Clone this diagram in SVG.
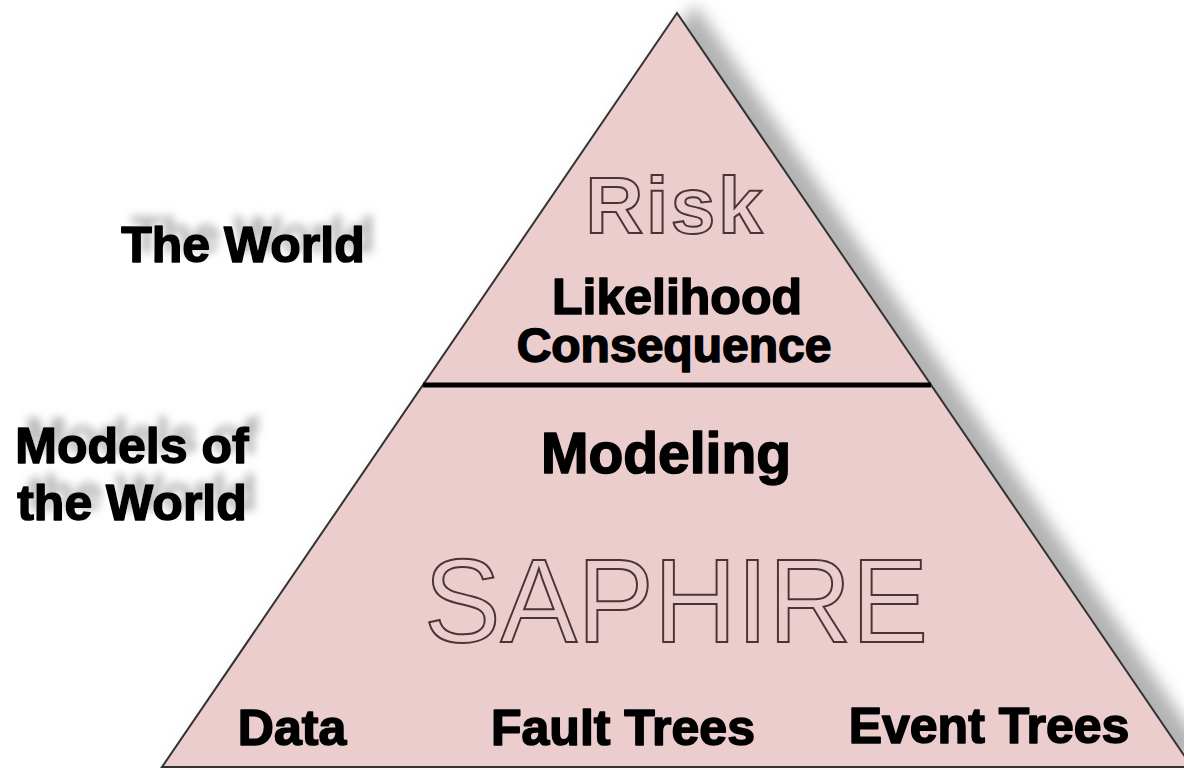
<svg xmlns="http://www.w3.org/2000/svg" width="1184" height="770" viewBox="0 0 1184 770">
  <defs>
    <filter id="triShadow" x="-10%" y="-10%" width="130%" height="130%">
      <feGaussianBlur in="SourceAlpha" stdDeviation="8" result="b"/>
      <feOffset in="b" dx="18" dy="-9" result="o"/>
      <feFlood flood-color="#8a8a8a" flood-opacity="0.65"/>
      <feComposite in2="o" operator="in"/>
    </filter>
    <filter id="txtShadow" x="-20%" y="-50%" width="140%" height="200%">
      <feGaussianBlur in="SourceAlpha" stdDeviation="4.5" result="b"/>
      <feOffset in="b" dx="10" dy="-10" result="o"/>
      <feFlood flood-color="#8c8c8c" flood-opacity="0.6"/>
      <feComposite in2="o" operator="in" result="s"/>
      <feMerge>
        <feMergeNode in="s"/>
        <feMergeNode in="SourceGraphic"/>
      </feMerge>
    </filter>
  </defs>
  <style>
    .lbl { font-family: "Liberation Sans", Arial, sans-serif; font-weight: bold; fill: #000; stroke: #000; stroke-width: 1.6; stroke-linejoin: round; }
    .outline { font-family: "Liberation Sans", Arial, sans-serif; fill: none; stroke: #4a3436; stroke-width: 2; }
  </style>
  <rect width="1184" height="770" fill="#ffffff"/>

  <g id="pyramid">
    <polygon points="677,13 162,767 1192,767" fill="#000" filter="url(#triShadow)"/>
    <polygon points="677,13 162,767 1192,767" fill="#ebcdce" stroke="#333333" stroke-width="2" stroke-linejoin="miter"/>
  </g>

  <g id="connectors">
    <line x1="423" y1="385" x2="931" y2="385" stroke="#000" stroke-width="5"/>
  </g>

  <g id="risk">
    <text class="outline" x="674" y="233" font-size="80" font-weight="bold" text-anchor="middle" textLength="177" lengthAdjust="spacing">Risk</text>
  </g>
  <g id="likelihood">
    <text class="lbl" x="677" y="314" font-size="50" text-anchor="middle">Likelihood</text>
    <text class="lbl" x="674" y="362" font-size="48" text-anchor="middle">Consequence</text>
  </g>
  <g id="modeling">
    <text class="lbl" x="666" y="473" font-size="57" text-anchor="middle">Modeling</text>
  </g>
  <g id="saphire">
    <text class="outline" x="676" y="642" font-size="118" text-anchor="middle" textLength="504" lengthAdjust="spacingAndGlyphs">SAPHIRE</text>
  </g>
  <g id="data">
    <text class="lbl" x="292" y="745" font-size="50" text-anchor="middle">Data</text>
  </g>
  <g id="fault-trees">
    <text class="lbl" x="623" y="745" font-size="50" text-anchor="middle">Fault Trees</text>
  </g>
  <g id="event-trees">
    <text class="lbl" x="989" y="743" font-size="50" text-anchor="middle">Event Trees</text>
  </g>

  <g id="the-world" filter="url(#txtShadow)">
    <text class="lbl" x="243" y="262" font-size="50" text-anchor="middle">The World</text>
  </g>
  <g id="models-of-the-world" filter="url(#txtShadow)">
    <text class="lbl" x="132" y="463" font-size="50" text-anchor="middle">Models of</text>
    <text class="lbl" x="132" y="520" font-size="50" text-anchor="middle">the World</text>
  </g>
</svg>
